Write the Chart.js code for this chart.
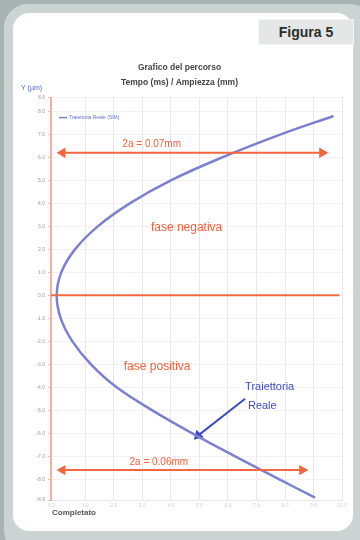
<!DOCTYPE html>
<html>
<head>
<meta charset="utf-8">
<script src="https://cdn.jsdelivr.net/npm/chart.js@4/dist/chart.umd.min.js"></script>
<style>
  html, body { margin:0; padding:0; }
  body { width:360px; height:540px; background:#a7b3b0; position:relative; overflow:hidden; font-family:"Liberation Sans", Arial, sans-serif; }
  #frame { position:absolute; left:4px; top:4px; width:370px; height:550px; border-radius:24px; background:#cbd4d2; }
  #panel { position:absolute; left:13px; top:13px; width:340px; height:518px; border-radius:16px; background:#ffffff; }
  #fig { position:absolute; left:258px; top:19px; width:96px; height:26px; background:#e4e7e6; border:1px solid #f4f6f5; box-sizing:border-box;
         font:bold 14px "Liberation Sans", Arial, sans-serif; color:#2a2e2c; text-align:center; line-height:25px; }
  #wrap { position:absolute; left:14px; top:55px; width:336px; height:465px; }
  #foot { position:absolute; left:52px; top:508px; font:bold 8px "Liberation Sans", Arial, sans-serif; color:#555; }
</style>
</head>
<body>
<div id="frame"></div>
<div id="panel"></div>
<div id="fig">Figura 5</div>
<div id="wrap"><canvas id="c"></canvas></div>
<div id="foot">Completato</div>
<script>
// ---- data ----
const trajY = [7.8, 7.0, 6.0, 5.0, 4.0, 3.0, 2.0, 1.0, 0.0, -1.0, -2.0, -3.0, -4.0, -5.0, -6.0, -7.0, -8.0, -8.8];
const trajX = [9.7, 7.85, 5.8, 4.0, 2.56, 1.44, 0.64, 0.16, 0.0, 0.14, 0.55, 1.2, 2.1, 3.35, 4.75, 6.25, 7.8, 9.05];
const axisLineX = [-0.4, 9.9];
const axisLineY = [0, 0];
const upperArrowX = [0.2, 9.3];
const upperArrowY = [6.2, 6.2];
const lowerArrowX = [0.2, 8.6];
const lowerArrowY = [-7.6, -7.6];
const pointerX = [6.6, 4.95];
const pointerY = [-4.5, -6.1];
const titleLines = ["Grafico del percorso", "Tempo (ms) / Ampiezza (mm)"];
const seriesName = "Traiettoria Reale (SIM)";
const notes = [
  {text: "2a = 0.07mm", x: 2.3, y: 6.55, color: "#f0623e", size: 10, bold: false},
  {text: "2a = 0.06mm", x: 2.55, y: -7.25, color: "#f0623e", size: 10, bold: false},
  {text: "fase negativa", x: 3.3, y: 2.95, color: "#f0623e", size: 12, bold: false},
  {text: "fase positiva", x: 2.35, y: -3.1, color: "#f0623e", size: 12, bold: false},
  {text: "Traiettoria", x: 6.6, y: -4.0, color: "#3d4cc0", size: 11, bold: false},
  {text: "Reale", x: 6.7, y: -4.8, color: "#3d4cc0", size: 11, bold: false}
];

function pts(xs, ys) { return xs.map((x, i) => ({x: x, y: ys[i]})); }

const annot = {
  id: 'annot',
  afterDatasetsDraw(chart) {
    const ctx = chart.ctx, xs = chart.scales.x, ys = chart.scales.y, a = chart.chartArea;
    ctx.save();
    ctx.textBaseline = 'middle';
    notes.forEach(n => {
      ctx.font = (n.bold ? 'bold ' : '') + n.size + 'px "Liberation Sans", Arial, sans-serif';
      ctx.fillStyle = n.color;
      ctx.fillText(n.text, xs.getPixelForValue(n.x), ys.getPixelForValue(n.y));
    });
    // axis label
    ctx.font = '7px "Liberation Sans", Arial, sans-serif';
    ctx.fillStyle = '#5566cc';
    ctx.fillText('Y (µm)', a.left - 30, a.top - 10);
    // legend
    ctx.strokeStyle = '#7a80d4'; ctx.lineWidth = 1.5;
    ctx.beginPath(); ctx.moveTo(a.left + 8, a.top + 20); ctx.lineTo(a.left + 16, a.top + 20); ctx.stroke();
    ctx.font = '5px "Liberation Sans", Arial, sans-serif';
    ctx.fillStyle = '#6670c8';
    ctx.fillText(seriesName, a.left + 18, a.top + 20);
    ctx.restore();
  }
};

new Chart(document.getElementById('c'), {
  type: 'scatter',
  data: {
    datasets: [
      {data: pts(axisLineX, axisLineY), showLine: true, borderColor: '#f2673f', borderWidth: 2, pointRadius: 0},
      {data: pts(upperArrowX, upperArrowY), showLine: true, borderColor: '#f2673f', backgroundColor: '#f2673f', borderWidth: 2,
       pointStyle: 'triangle', pointRadius: 4, pointRotation: [-90, 90]},
      {data: pts(lowerArrowX, lowerArrowY), showLine: true, borderColor: '#f2673f', backgroundColor: '#f2673f', borderWidth: 2,
       pointStyle: 'triangle', pointRadius: 4, pointRotation: [-90, 90]},
      {data: pts(trajX, trajY), showLine: true, borderColor: '#7c80d2', borderWidth: 2.5, pointRadius: 0, tension: 0.4},
      {data: pts(pointerX, pointerY), showLine: true, borderColor: '#3d4cc0', backgroundColor: '#3d4cc0', borderWidth: 2,
       pointStyle: 'triangle', pointRadius: [0, 4], pointRotation: [0, 225]}
    ]
  },
  options: {
    responsive: true, maintainAspectRatio: false, animation: false,
    layout: {padding: {right: 5, bottom: 0}},
    plugins: {
      legend: {display: false},
      tooltip: {enabled: false},
      title: {display: true, text: titleLines, color: '#444', font: {size: 8.5, weight: 'bold', lineHeight: 1.8, family: '"Liberation Sans", Arial, sans-serif'},
              padding: {top: 5, bottom: 7}}
    },
    scales: {
      x: {type: 'linear', min: -0.2, max: 10, ticks: {stepSize: 1, color: '#cfcfd6', font: {size: 5}, callback: v => v.toFixed(1)},
          grid: {color: '#e6e7f0', drawTicks: false}, border: {color: '#e6e6ee'},
          afterFit(s) { s.height = 20; }},
      y: {type: 'linear', min: -8.9, max: 8.6, ticks: {stepSize: 1, color: '#9a9a9a', font: {size: 5}, callback: v => v.toFixed(1)},
          grid: {color: '#f6f0f0', drawTicks: true, tickLength: 3, tickColor: '#f3b9a8'}, border: {color: '#f3b0a0', width: 2},
          afterFit(s) { s.width = 37; }}
    }
  },
  plugins: [annot]
});
</script>
</body>
</html>
